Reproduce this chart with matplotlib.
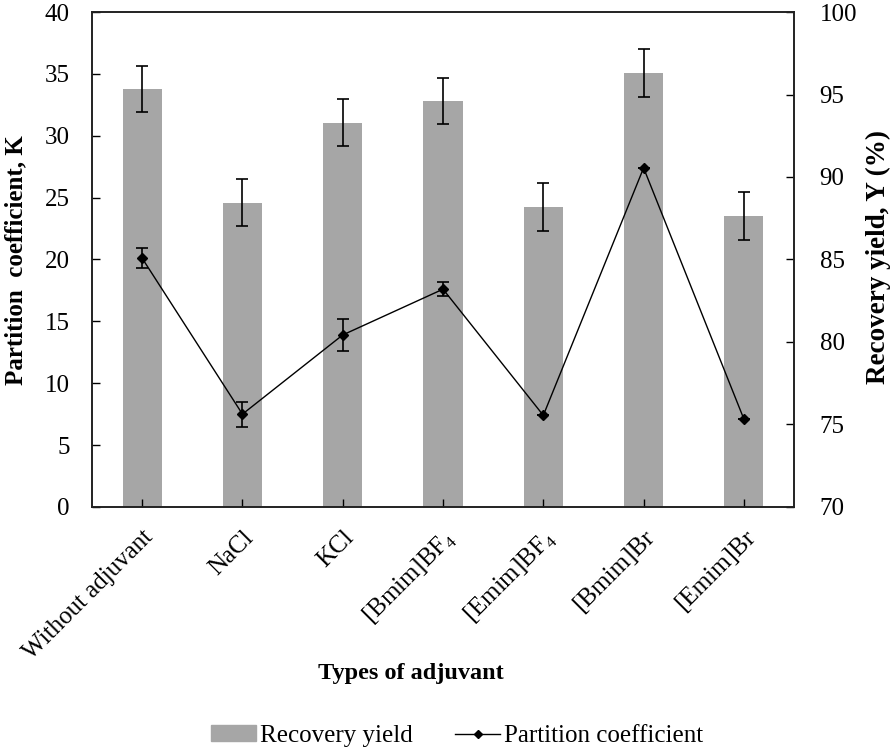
import matplotlib.pyplot as plt
from matplotlib.lines import Line2D

plt.rcParams['font.family'] = 'Liberation Serif'
plt.rcParams['mathtext.fontset'] = 'custom'
plt.rcParams['mathtext.rm'] = 'Liberation Serif'

categories = ['Without adjuvant', 'NaCl', 'KCl', '[Bmim]BF$_4$',
              '[Emim]BF$_4$', '[Bmim]Br', '[Emim]Br']
recovery_yield = [95.35, 88.45, 93.3, 94.6, 88.2, 96.3, 87.65]
yield_err = [1.4, 1.45, 1.4, 1.4, 1.45, 1.45, 1.45]
partition_k = [20.1, 7.5, 13.9, 17.6, 7.4, 27.4, 7.1]
k_err = [0.8, 1.0, 1.3, 0.55, 0.0, 0.0, 0.0]

fig = plt.figure(figsize=(8.96, 7.51), dpi=100)
ax = fig.add_axes([0.1027, 0.325, 0.7835, 0.659])
ax2 = ax.twinx()

x = list(range(len(categories)))

# bars on the right axis (recovery yield), drawn up from the 70 baseline
ax2.bar(x, [v - 70 for v in recovery_yield], bottom=70, width=0.39,
        color='#a6a6a6')
ax2.errorbar(x, recovery_yield, yerr=yield_err, fmt='none', ecolor='black',
             elinewidth=1.2, capsize=4.5, capthick=1.2)
ax2.set_ylim(70, 100)
ax2.set_yticks(range(70, 101, 5))

# line on the left axis (partition coefficient), kept above the bars
ax.set_zorder(ax2.get_zorder() + 1)
ax.patch.set_visible(False)
ax.errorbar(x, partition_k, yerr=k_err, color='black', lw=1, marker='D',
            ms=5, ecolor='black', elinewidth=1.2, capsize=4.5, capthick=1.2)
ax.set_ylim(0, 40)
ax.set_yticks(range(0, 41, 5))
ax.set_xlim(-0.5, len(categories) - 0.5)
ax.set_xticks(x)
ax.set_xticklabels(categories, rotation=45, ha='right', rotation_mode='anchor')

for a in (ax, ax2):
    a.tick_params(direction='in', labelsize=18, length=6, width=1)
    for s in a.spines.values():
        s.set_linewidth(1.2)
        s.set_color('#222222')
ax.tick_params(axis='x', labelsize=18, pad=14)
ax.tick_params(axis='y', pad=16)
ax2.tick_params(axis='y', pad=18.5)

fig.text(16 / 896, 1 - 260 / 751, 'Partition  coefficient, K', fontsize=18,
         fontweight='bold', rotation=90, ha='center', va='center')
fig.text(878 / 896, 1 - 257 / 751, 'Recovery yield, Y (%)', fontsize=19.5,
         fontweight='bold', rotation=90, ha='center', va='center')
fig.text(411 / 896, 1 - 673 / 751, 'Types of adjuvant', fontsize=17.5,
         fontweight='bold', ha='center', va='center')

handles = [plt.Rectangle((0, 0), 1, 1, color='#a6a6a6'),
           Line2D([], [], color='black', lw=1, marker='D', ms=4)]
fig.legend(handles, ['Recovery yield', 'Partition coefficient'], loc='center',
           bbox_to_anchor=(457 / 896, 1 - 736 / 751), ncol=2, frameon=False,
           fontsize=18, handlelength=1.8, handleheight=0.6,
           handletextpad=0.15, columnspacing=1.7)

plt.savefig('out.png', dpi=100)
